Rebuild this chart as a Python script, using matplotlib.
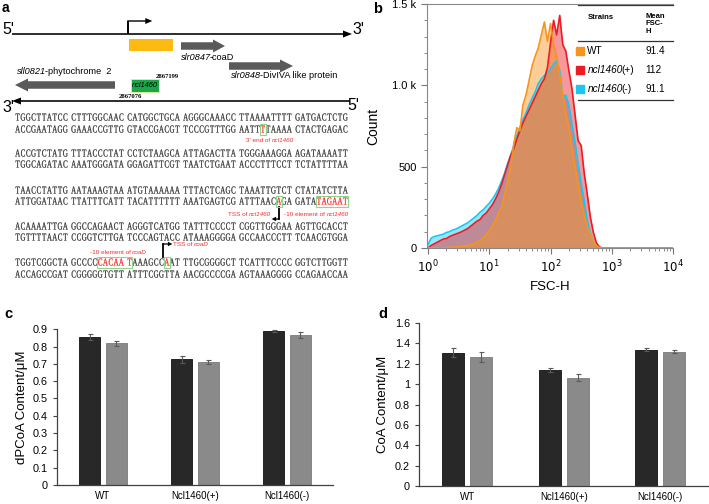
import numpy as np
import matplotlib
matplotlib.use('Agg')
import matplotlib.pyplot as plt
from matplotlib.patches import Rectangle, FancyArrow, PathPatch
from matplotlib.textpath import TextPath
from matplotlib.font_manager import FontProperties
from matplotlib.transforms import Affine2D, offset_copy

plt.rcParams['font.family'] = ['Liberation Sans', 'DejaVu Sans']

# ---- panel a: sequence ----
SEQ_ROWS = [
    "TGGCTTATCC CTTTGGCAAC CATGGCTGCA AGGGCAAACC TTAAAATTTT GATGACTCTG",
    "ACCGAATAGG GAAACCGTTG GTACCGACGT TCCCGTTTGG AATTTTAAAA CTACTGAGAC",
    "ACCGTCTATG TTTACCCTAT CCTCTAAGCA ATTAGACTTA TGGGAAAGGA AGATAAAATT",
    "TGGCAGATAC AAATGGGATA GGAGATTCGT TAATCTGAAT ACCCTTTCCT TCTATTTTAA",
    "TAACCTATTG AATAAAGTAA ATGTAAAAAA TTTACTCAGC TAAATTGTCT CTATATCTTA",
    "ATTGGATAAC TTATTTCATT TACATTTTTT AAATGAGTCG ATTTAACAGA GATATAGAAT",
    "ACAAAATTGA GGCCAGAACT AGGGTCATGG TATTTCCCCT CGGTTGGGAA AGTTGCACCT",
    "TGTTTTAACT CCGGTCTTGA TCCCAGTACC ATAAAGGGGA GCCAACCCTT TCAACGTGGA",
    "TGGTCGGCTA GCCCCCACAA TAAAGCCAAT TTGCGGGGCT TCATTTCCCC GGTCTTGGTT",
    "ACCAGCCGAT CGGGGGTGTT ATTTCGGTTA AACGCCCCGA AGTAAAGGGG CCAGAACCAA",
]
ROW_Y = [117, 129, 153, 164, 190, 201, 226, 237, 262, 274]
# (row, first letter, last letter) of red boxed motifs
MOTIFS = [(1, 44, 44), (5, 47, 47), (5, 54, 59), (8, 15, 20), (8, 27, 27)]
SEQ_NOTES = [
    ([("3' end of", 'normal'), (" ncl1460", 'italic')], 270, 140, 'center'),
    ([("TSS of", 'normal'), (" ncl1460", 'italic')], 249, 214, 'center'),
    ([("-10 element of", 'normal'), (" ncl1460", 'italic')], 316, 214, 'center'),
    ([("-10 element of", 'normal'), (" coaD", 'italic')], 118, 252, 'center'),
    ([("TSS of", 'normal'), (" coaD", 'italic')], 173, 244, 'left'),
]

# ---- panel b: FSC-H histogram ----
LOG_FSC = [0.00, 0.05, 0.10, 0.15, 0.20, 0.25, 0.30, 0.35, 0.40, 0.45,
           0.50, 0.55, 0.60, 0.65, 0.70, 0.75, 0.80, 0.85, 0.90, 0.95,
           1.00, 1.05, 1.10, 1.15, 1.20, 1.25, 1.30, 1.35, 1.40, 1.45,
           1.50, 1.55, 1.60, 1.65, 1.70, 1.75, 1.80, 1.85, 1.90, 1.95,
           2.00, 2.05, 2.10, 2.15, 2.20, 2.25, 2.30, 2.35, 2.40, 2.45,
           2.50, 2.55, 2.60, 2.65, 2.70, 2.75, 2.80, 2.85, 2.90, 3.00,
           3.50, 4.00]
COUNT_WT = [0, 0, 0, 0, 0, 0, 2, 3, 4, 5,
            6, 9, 12, 15, 20, 28, 36, 48, 62, 80,
            105, 135, 170, 215, 250, 330, 410, 500, 640, 740,
            720, 880, 940, 1030, 1120, 1180, 1230, 1310, 1390, 1270,
            1380, 1250, 1180, 1060, 940, 830, 740, 610, 500, 390,
            280, 200, 130, 80, 40, 12, 2, 0, 0, 0,
            0, 0]
COUNT_POS = [0, 15, 25, 35, 45, 55, 58, 70, 78, 85,
             92, 100, 110, 120, 135, 150, 165, 175, 200, 215,
             240, 265, 300, 340, 390, 450, 510, 570, 610, 670,
             720, 770, 810, 850, 890, 930, 970, 1010, 1040, 1110,
             1260, 1400, 1310, 1430, 1250, 1210, 1090, 980, 820, 660,
             630, 460, 330, 190, 95, 30, 6, 0, 0, 0,
             0, 0]
COUNT_NEG = [20, 60, 70, 75, 80, 85, 95, 100, 110, 115,
             125, 135, 145, 155, 170, 185, 200, 220, 235, 255,
             275, 300, 330, 365, 410, 460, 520, 570, 630, 690,
             740, 790, 830, 880, 920, 960, 1010, 1040, 1060, 1080,
             1100, 1130, 1150, 1090, 930, 940, 880, 760, 650, 520,
             400, 290, 170, 90, 40, 10, 0, 0, 0, 0,
             0, 0]
STRAINS = [[("WT", 'normal')],
           [("ncl1460", 'italic'), ("(+)", 'normal')],
           [("ncl1460", 'italic'), ("(-)", 'normal')]]
MEAN_FSC = ["91.4", "112", "91.1"]
STRAIN_COLORS = ['#f7941d', '#ed1c24', '#1cc7ef']

# ---- panels c, d: bars ----
GROUPS = ["WT", "Ncl1460(+)", "Ncl1460(-)"]
DPCOA_DARK = [0.855, 0.727, 0.890]
DPCOA_DARK_ERR = [0.015, 0.020, 0.003]
DPCOA_LIGHT = [0.820, 0.710, 0.868]
DPCOA_LIGHT_ERR = [0.015, 0.010, 0.017]
COA_DARK = [1.31, 1.135, 1.34]
COA_DARK_ERR = [0.040, 0.020, 0.015]
COA_LIGHT = [1.27, 1.065, 1.32]
COA_LIGHT_ERR = [0.050, 0.030, 0.015]

fig = plt.figure(figsize=(7.09, 5.04), dpi=100)
renderer = fig.canvas.get_renderer()


def rich_text(axx, x, y, parts, ha='left', transform=None, **kw):
    """Text made of pieces with different font styles, laid side by side."""
    base = transform if transform is not None else axx.transData
    size = kw.get('fontsize', 7)
    space = 0.278 * size * fig.dpi / 72
    texts, widths = [], []
    for txt, style in parts:
        gap = space if txt.startswith(' ') else 0
        t = axx.text(x, y, txt.strip(), transform=base, fontstyle=style, ha='left', **kw)
        texts.append((t, gap))
        # italic boxes carry the slant overhang, pull the next piece back
        trim = 0.17 * size if style == 'italic' else 0
        widths.append(t.get_window_extent(renderer).width + gap - trim)
    shift = -sum(widths) * (0.5 if ha == 'center' else 0)
    for (t, gap), w in zip(texts, widths):
        t.set_transform(offset_copy(base, fig=fig, x=shift + gap, units='dots'))
        shift += w


# panel a drawn in pixel coordinates
ax = fig.add_axes([0, 0, 1, 1])
ax.set_xlim(0, 709)
ax.set_ylim(504, 0)
ax.axis('off')

ax.text(2, 8, 'a', fontsize=10, fontweight='bold', va='center')
ax.text(2, 30, "5'", fontsize=11.5, va='center')
ax.text(352, 30, "3'", fontsize=11.5, va='center')
ax.add_patch(FancyArrow(12, 34, 340, 0, width=1.6, head_width=7, head_length=9,
                        length_includes_head=True, color='black', lw=0))
ax.plot([128, 128], [34, 21], color='black', lw=1.4, solid_capstyle='butt')
ax.add_patch(FancyArrow(127.3, 21, 25, 0, width=1.4, head_width=6, head_length=7,
                        length_includes_head=True, color='black', lw=0))
ax.add_patch(Rectangle((129, 39), 44, 12, color='#fdba12', lw=0))
gene_gray = '#5a5a5a'
ax.add_patch(FancyArrow(181, 46, 44, 0, width=7.5, head_width=13, head_length=12,
                        length_includes_head=True, color=gene_gray, lw=0))
ax.add_patch(FancyArrow(229, 66, 64, 0, width=7.5, head_width=13, head_length=13,
                        length_includes_head=True, color=gene_gray, lw=0))
ax.add_patch(FancyArrow(115, 85, -100, 0, width=7.5, head_width=13, head_length=13,
                        length_includes_head=True, color=gene_gray, lw=0))
rich_text(ax, 181, 57, [("slr0847", 'italic'), ("-coaD", 'normal')], fontsize=6.6, va='center')
rich_text(ax, 231, 76, [("slr0848", 'italic'), ("-DivIVA like protein", 'normal')],
          fontsize=6.6, va='center')
rich_text(ax, 17, 71, [("sll0821", 'italic'), ("-phytochrome  2", 'normal')],
          fontsize=6.6, va='center')
ax.add_patch(Rectangle((131, 79), 28, 13, fc='#1ba64b', ec='#e6f0a0', lw=0.6))
ax.text(145, 85.5, "ncl1460", fontsize=5.4, fontstyle='italic', ha='center', va='center')
ax.text(167, 77, "2867199", fontsize=4.8, ha='center', va='center',
        family='Liberation Serif', fontweight='bold')
ax.text(130, 97, "2867076", fontsize=4.8, ha='center', va='center',
        family='Liberation Serif', fontweight='bold')
ax.add_patch(FancyArrow(350, 101, -338, 0, width=1.6, head_width=7, head_length=9,
                        length_includes_head=True, color='black', lw=0))
ax.text(2, 108, "3'", fontsize=11.5, va='center')
ax.text(347, 106, "5'", fontsize=11.5, va='center')


def char_x(k):
    return 15 + (k // 10) * 56 + (k % 10) * 5.3 + 2.65


red_set = set()
for r, k0, k1 in MOTIFS:
    for k in range(k0, k1 + 1):
        red_set.add((r, k))
    x0 = char_x(k0) - 2.8
    x1 = char_x(k1) + 2.8
    ax.add_patch(Rectangle((x0, ROW_Y[r] - 5.5), x1 - x0, 11, fill=False,
                           ec='#8fd48a', lw=0.8, zorder=3))

# narrow serif letters: glyph outlines squeezed horizontally
serif = FontProperties(family='Liberation Serif')
glyphs = {}
for ch in 'ACGT':
    p = TextPath((0, 0), ch, size=10.6, prop=serif)
    e = p.get_extents()
    glyphs[ch] = (p, (e.x0 + e.x1) / 2)

for r, row in enumerate(SEQ_ROWS):
    for k, ch in enumerate(row.replace(' ', '')):
        col = '#ff1a1a' if (r, k) in red_set else '#2a2a2a'
        p, cx = glyphs[ch]
        tr = Affine2D().translate(-cx, 0).scale(0.66, -1).translate(char_x(k), ROW_Y[r] + 3.5)
        ax.add_patch(PathPatch(tr.transform_path(p), fc=col, ec=col, lw=0.15))

for parts, x, y, ha in SEQ_NOTES:
    rich_text(ax, x, y, parts, ha=ha, fontsize=4.6, color='#ff2a2a', va='center')

# bent arrows at TSS
ax.plot([279, 279], [207, 219], color='black', lw=1.3)
ax.add_patch(FancyArrow(279.6, 219, -8, 0, width=1.3, head_width=4.5, head_length=4.5,
                        length_includes_head=True, color='black', lw=0))
ax.plot([163, 163], [257, 244], color='black', lw=1.3)
ax.add_patch(FancyArrow(162.4, 244, 10, 0, width=1.3, head_width=4.5, head_length=4.5,
                        length_includes_head=True, color='black', lw=0))

# panel b
axb = fig.add_axes([0.6023, 0.508, 0.347, 0.484])
fsc = 10 ** np.array(LOG_FSC)
for counts, col in zip([COUNT_NEG, COUNT_POS, COUNT_WT],
                       [STRAIN_COLORS[2], STRAIN_COLORS[1], STRAIN_COLORS[0]]):
    axb.fill_between(fsc, counts, 0, color=col, alpha=0.45, lw=0)
    axb.plot(fsc, counts, color=col, lw=1.2)
axb.set_xscale('log')
axb.set_xlim(10 ** -0.016, 1e4)
axb.set_ylim(0, 1500)
axb.set_xticks([1, 10, 100, 1000, 10000])
axb.set_xticklabels(['$10^{0}$', '$10^{1}$', '$10^{2}$', '$10^{3}$', '$10^{4}$'])
axb.set_yticks([0, 500, 1000, 1500])
axb.set_yticklabels(['0', '500', '1.0 k', '1.5 k'])
axb.set_yticks(np.arange(0, 1501, 100), minor=True)
axb.tick_params(which='both', direction='out', labelsize=8, color='#777777')
axb.tick_params(axis='x', labelsize=8.5)
axb.tick_params(which='major', length=4)
axb.tick_params(which='minor', length=2)
for s in ['left', 'bottom', 'top']:
    axb.spines[s].set_color('#888888')
axb.spines['right'].set_visible(False)
axb.set_ylabel('Count', fontsize=10)
axb.set_xlabel('FSC-H', fontsize=9.5)
axb.yaxis.set_label_coords(-0.19, 0.5)
axb.xaxis.set_label_coords(0.5, -0.135)

# legend table
tr = axb.transAxes
for yy in [0.996, 0.848, 0.607]:
    axb.plot([0.614, 1.0], [yy, yy], color='#333333', lw=0.9, transform=tr, clip_on=False)
axb.text(0.654, 0.96, 'Strains', fontsize=5.5, fontweight='bold', va='top', transform=tr)
axb.text(0.886, 0.965, 'Mean\nFSC-\nH', fontsize=5.5, fontweight='bold', va='top',
         linespacing=1.15, transform=tr)
for i, (name, val, col) in enumerate(zip(STRAINS, MEAN_FSC, STRAIN_COLORS)):
    yy = 0.807 - i * 0.078
    axb.plot([0.622], [yy], marker='s', ms=5.5, color=col, transform=tr, clip_on=False)
    rich_text(axb, 0.652, yy, name, transform=tr, fontsize=7.2, va='center')
    axb.text(0.886, yy, val, fontsize=7.2, va='center', transform=tr)


def draw_bars(axx, dark, dark_err, light, light_err, ymax, ystep, ylabel):
    x = np.arange(len(GROUPS)) + 0.5
    ekw = dict(ecolor='#5a5a5a', elinewidth=0.8, capsize=1.8, capthick=0.8)
    axx.bar(x - 0.145, dark, 0.23, yerr=dark_err, color='#282828',
            edgecolor='#111111', linewidth=0.6, error_kw=ekw)
    axx.bar(x + 0.145, light, 0.23, yerr=light_err, color='#8a8a8a',
            edgecolor='#7a7a7a', linewidth=0.6, error_kw=ekw)
    axx.set_xlim(0, 3)
    axx.set_ylim(0, ymax)
    ticks = np.arange(0, ymax + ystep / 2, ystep)
    axx.set_yticks(ticks)
    axx.set_yticklabels(['{:g}'.format(round(t, 2)) for t in ticks])
    axx.set_xticks(x)
    axx.set_xticklabels(GROUPS)
    axx.tick_params(axis='x', length=0, labelsize=7, pad=4)
    axx.tick_params(axis='y', length=3, labelsize=7.8, color='#404040', width=0.8)
    for s in ['top', 'right']:
        axx.spines[s].set_visible(False)
    for s in ['left', 'bottom']:
        axx.spines[s].set_color('#404040')
        axx.spines[s].set_linewidth(0.9)
    axx.set_ylabel(ylabel, fontsize=9.5)
    axx.yaxis.set_label_coords(-0.105, 0.5)


axc = fig.add_axes([0.0804, 0.0377, 0.3893, 0.309])
draw_bars(axc, DPCOA_DARK, DPCOA_DARK_ERR, DPCOA_LIGHT, DPCOA_LIGHT_ERR,
          0.9, 0.1, 'dPCoA Content/\u03bcM')
axd = fig.add_axes([0.591, 0.0357, 0.408, 0.3234])
draw_bars(axd, COA_DARK, COA_DARK_ERR, COA_LIGHT, COA_LIGHT_ERR,
          1.6, 0.2, 'CoA Content/\u03bcM')

fig.text(373 / 709, 1 - 9 / 504, 'b', fontsize=10.5, fontweight='bold', va='center')
fig.text(4 / 709, 1 - 314 / 504, 'c', fontsize=10.5, fontweight='bold', va='center')
fig.text(378 / 709, 1 - 314 / 504, 'd', fontsize=10.5, fontweight='bold', va='center')

fig.savefig('out.png', dpi=100)
